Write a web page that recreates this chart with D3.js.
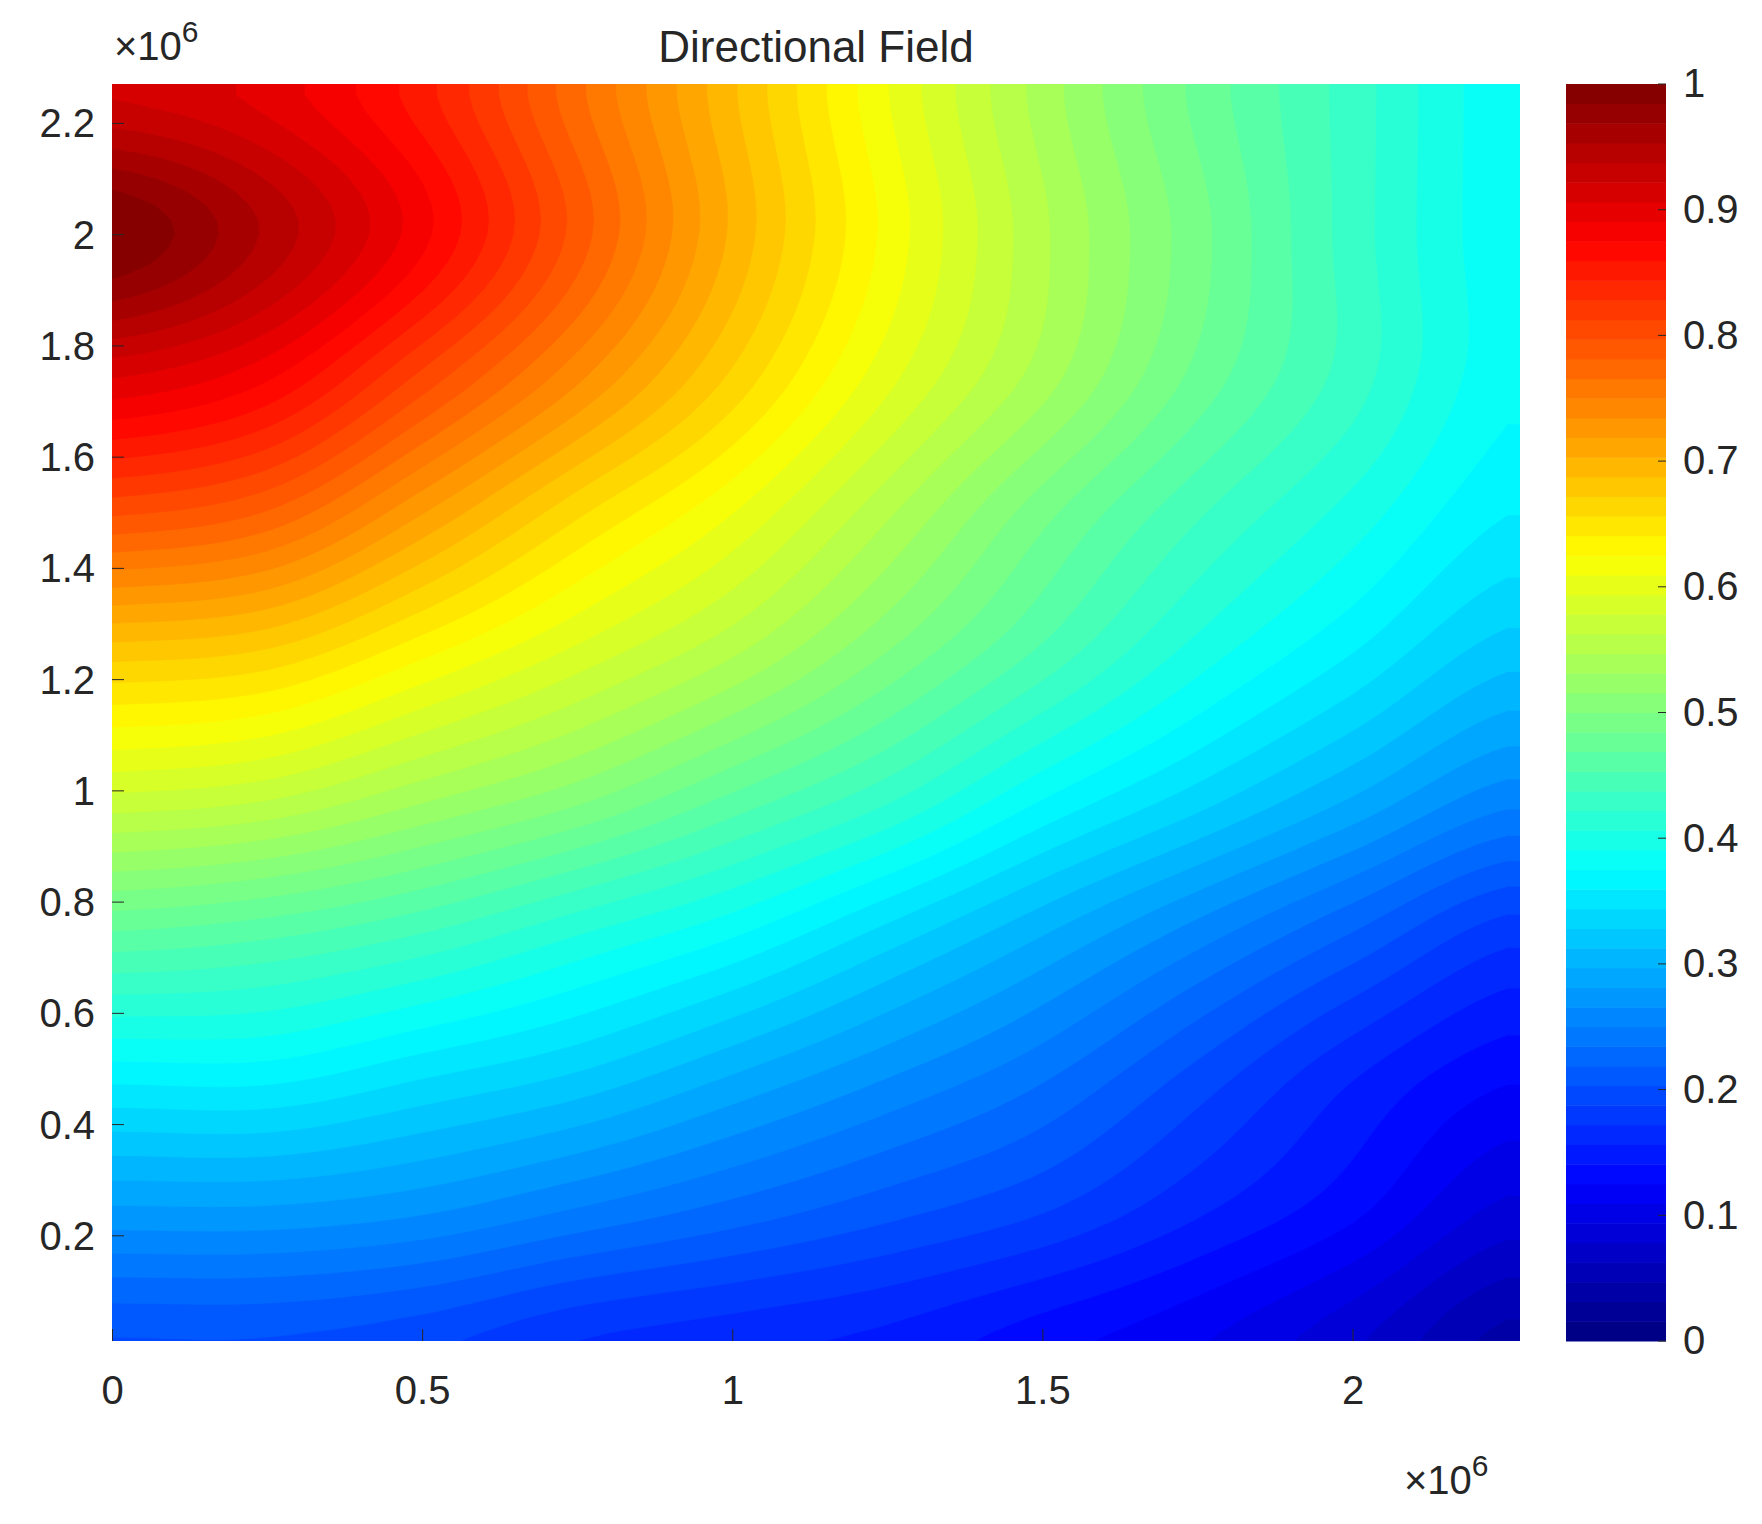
<!DOCTYPE html>
<html><head><meta charset="utf-8">
<script src="https://cdn.jsdelivr.net/npm/d3@7"></script>
<style>body{margin:0;background:#fff}text{font-family:"Liberation Sans",Arial,sans-serif;fill:#262626}</style>
</head><body><svg id="c" width="1762" height="1524"></svg>
<script>
const xGrid=[0,0.25,0.5,0.75,1,1.25,1.5,1.75,2,2.25];
const yGrid=[0,0.25,0.5,0.75,1,1.25,1.5,1.75,2,2.25];
// rows from y=0 upward
const fieldRows=[
[.20,.20,.19,.17,.16,.15,.13,.11,.08,.04],
[.28,.28,.27,.25,.23,.21,.19,.16,.13,.09],
[.37,.37,.35,.33,.30,.27,.24,.20,.16,.13],
[.47,.46,.44,.41,.38,.34,.30,.26,.22,.18],
[.58,.57,.54,.51,.47,.43,.38,.34,.30,.26],
[.68,.67,.63,.59,.55,.50,.45,.40,.36,.32],
[.80,.78,.72,.66,.61,.55,.49,.44,.40,.36],
[.91,.88,.81,.74,.67,.60,.54,.48,.43,.38],
[1.0,.95,.88,.79,.70,.62,.55,.49,.43,.38],
[.92,.90,.85,.77,.69,.61,.54,.48,.43,.38]];
const xTicks=[0,0.5,1,1.5,2], yTicks=[0.2,0.4,0.6,0.8,1,1.2,1.4,1.6,1.8,2,2.2];
const cTicks=[0,0.1,0.2,0.3,0.4,0.5,0.6,0.7,0.8,0.9,1];

function jet(v){v=Math.max(0,Math.min(1,v));
 const f=t=>Math.max(0,Math.min(1,t));
 const r=f(1.5-Math.abs(4*v-3)),g=f(1.5-Math.abs(4*v-2)),b=f(1.5-Math.abs(4*v-1));
 return d3.rgb(r*255,g*255,b*255)+"";}

// smooth rendering: Catmull-Rom resampling of the read grid
const n=xGrid.length,m=yGrid.length,K=10,EXT=3;
function cr(p0,p1,p2,p3,t){return 0.5*((2*p1)+(-p0+p2)*t+(2*p0-5*p1+4*p2-p3)*t*t+(-p0+3*p1-3*p2+p3)*t*t*t);}
const at=(j,i)=>fieldRows[Math.max(0,Math.min(m-1,j))][Math.max(0,Math.min(n-1,i))];
function sample(u,v){u=Math.min(u,n-1);v=Math.min(v,m-1);
 const i=Math.min(n-2,Math.floor(u)),j=Math.min(m-2,Math.floor(v));const tu=u-i,tv=v-j;
 const rows=[-1,0,1,2].map(dj=>cr(at(j+dj,i-1),at(j+dj,i),at(j+dj,i+1),at(j+dj,i+2),tu));
 return Math.max(0,Math.min(1,cr(rows[0],rows[1],rows[2],rows[3],tv)));}
const W=(n-1)*K+1+EXT,H=(m-1)*K+1+EXT,step=(xGrid[1]-xGrid[0])/K;
const values=[];
for(let j=0;j<H;j++)for(let i=0;i<W;i++)values.push(sample(i/K,j/K));

const svg=d3.select("#c");
const L=112,R=1520,T=84,B=1341;
const xs=d3.scaleLinear().domain([0,2.27]).range([L,R]);
const ys=d3.scaleLinear().domain([0.01,2.27]).range([B,T]);
const N=64,th=d3.range(N).map(i=>i/N);
const cont=d3.contours().size([W,H]).thresholds(th)(values);
const proj=d3.geoTransform({point(x,y){
 this.stream.point(xs((x-0.5)*step), ys((y-0.5)*step));}});
const path=d3.geoPath(proj);
svg.append("clipPath").attr("id","cp").append("rect").attr("x",L).attr("y",T).attr("width",R-L).attr("height",B-T);
const g=svg.append("g").attr("clip-path","url(#cp)");
g.append("rect").attr("x",L).attr("y",T).attr("width",R-L).attr("height",B-T).attr("fill",jet(0.5/N));
g.selectAll("path").data(cont).join("path").attr("d",path)
 .attr("fill",d=>jet(d.value+0.5/N)).attr("stroke",d=>jet(d.value+0.5/N)).attr("stroke-width",0.6);

const fs=40;
const xa=svg.append("g").attr("transform",`translate(0,${B})`)
 .call(d3.axisBottom(xs).tickValues(xTicks).tickSize(-12).tickFormat(d3.format("")));
xa.select(".domain").remove();
xa.selectAll("line").attr("stroke","#262626");
xa.selectAll("text").attr("font-size",fs).attr("dy","1.5em");
const ya=svg.append("g").attr("transform",`translate(${L},0)`)
 .call(d3.axisLeft(ys).tickValues(yTicks).tickSize(-12).tickFormat(d3.format("")));
ya.select(".domain").remove();
ya.selectAll("line").attr("stroke","#262626");
ya.selectAll("text").attr("font-size",fs).attr("dx","-0.35em").attr("dy","0.35em");
function expo(x,y){const t=svg.append("text").attr("x",x).attr("y",y).attr("font-size",fs);
 t.append("tspan").text("×10");t.append("tspan").attr("font-size",30).attr("dy",-18).text("6");}
expo(114,60); expo(1404,1494);
svg.append("text").attr("x",(L+R)/2).attr("y",62).attr("text-anchor","middle").attr("font-size",44).text("Directional Field");

const CL=1566,CR=1666;
const cs=d3.scaleLinear().domain([0,1]).range([B,T]);
svg.append("g").selectAll("rect").data(th).join("rect")
 .attr("x",CL).attr("width",CR-CL).attr("y",d=>cs(d+1/N)).attr("height",cs(0)-cs(1/N)+0.5)
 .attr("fill",d=>jet(d+0.5/N));
const ca=svg.append("g").attr("transform",`translate(${CR},0)`)
 .call(d3.axisRight(cs).tickValues(cTicks).tickSize(0).tickFormat(d3.format("")));
ca.select(".domain").remove();
ca.selectAll("text").attr("font-size",fs).attr("dx","0.35em");
svg.append("g").selectAll("line").data(cTicks).join("line")
 .attr("x1",CR-8).attr("x2",CR).attr("y1",d=>cs(d)).attr("y2",d=>cs(d)).attr("stroke","#262626");
</script></body></html>
